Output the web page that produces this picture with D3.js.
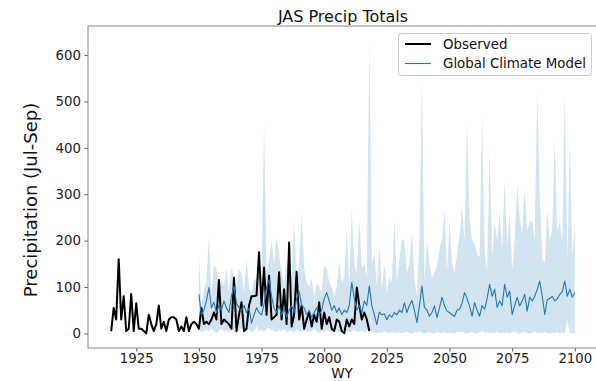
<!DOCTYPE html>
<html>
<head>
<meta charset="utf-8">
<script src="https://cdn.jsdelivr.net/npm/d3@7/dist/d3.min.js"></script>
<style>
  html, body { margin: 0; padding: 0; background: #fff; }
  svg { display: block; font-family: "DejaVu Sans", sans-serif; }
</style>
</head>
<body>
<svg id="chart" width="596" height="381"></svg>
<script>
// ---- Data ----
const obsStart = 1915;
const observed = [
  5,55,30,160,30,80,5,10,85,5,
  65,10,10,5,0,40,20,5,20,60,
  10,25,5,30,35,35,30,5,15,5,
  35,5,20,25,20,10,55,20,25,20,
  30,45,30,115,20,30,25,20,10,120,
  5,40,67,5,10,60,80,80,82,175,
  60,142,40,125,30,35,40,132,30,95,
  20,196,15,40,133,30,60,10,30,45,
  15,40,25,67,10,45,20,35,10,5,
  30,25,5,0,30,15,30,20,99,60,
  30,45,30,5
];
const gcmStart = 1950;
const gcmMean = [
  84,40,50,70,99,55,67,45,60,50,
  70,55,45,80,102,65,55,49,60,45,
  54,22,40,55,45,40,62,100,116,80,
  54,45,60,40,55,35,50,60,45,75,
  91,60,55,40,50,35,45,55,40,50,
  75,88,70,50,60,45,55,40,50,45,
  60,110,75,50,60,45,70,60,102,60,
  40,19,46,40,42,30,40,35,45,40,
  50,45,66,45,60,71,50,23,60,102,
  56,50,37,45,59,34,55,78,60,48,
  45,40,37,50,52,65,88,75,59,37,
  66,50,37,60,52,75,106,80,95,56,
  70,60,106,78,91,41,60,78,59,70,
  84,48,78,70,80,95,113,80,41,73,
  75,80,70,75,84,90,113,80,95,78,
  88
];
const gcmUpper = [
  167,60,95,110,210,80,145,142,90,120,
  100,140,90,142,120,100,140,130,90,160,
  100,85,120,110,130,110,447,130,160,200,
  150,207,170,130,110,160,130,120,240,110,
  150,257,140,110,100,120,80,110,100,90,
  145,140,110,100,80,100,150,110,120,225,
  100,268,150,130,246,140,150,120,631,150,
  175,100,188,95,149,88,120,110,248,110,
  160,203,200,131,150,218,120,80,200,548,
  110,199,150,120,131,145,180,200,268,131,
  240,150,130,170,210,275,200,455,246,200,
  192,170,164,473,180,131,397,164,240,200,
  261,181,326,188,264,138,200,322,250,214,
  311,220,240,242,200,520,300,160,153,264,
  200,225,419,220,240,200,512,160,415,167,
  232
];
const gcmLower = [
  10,2,5,8,3,12,5,0,6,10,
  4,8,2,10,5,0,7,12,3,6,
  9,2,5,15,4,8,3,10,12,5,
  6,2,8,4,10,3,5,7,2,9,
  4,6,3,8,2,5,10,4,0,6,
  3,8,5,2,6,4,1,5,3,7,
  2,5,8,3,4,6,2,5,10,3,
  2,0,3,1,4,2,0,3,1,2,
  3,0,2,4,1,0,3,2,5,1,
  0,2,3,1,0,4,2,1,3,0,
  2,1,0,3,2,4,1,0,2,3,
  1,0,2,5,1,3,0,2,1,4,
  0,2,1,3,0,2,4,1,0,2,
  3,1,0,2,4,1,2,0,3,1,
  0,2,1,3,0,2,1,27,2,0,
  1
];
const xTicks = [1925,1950,1975,2000,2025,2050,2075,2100];
const yTicks = [0,100,200,300,400,500,600];
const seriesNames = ["Observed", "Global Climate Model"];
const titleText = "JAS Precip Totals";
const xLabel = "WY";
const yLabel = "Precipitation (Jul-Sep)";

// ---- Layout ----
const svg = d3.select("#chart");
const L = 88, R = 598, T = 26, B = 348;
const x = d3.scaleLinear().domain([1905.75, 2109.25]).range([L, R]);
const y = d3.scaleLinear().domain([-31.5, 662.6]).range([B, T]);

const obs = observed.map((v, i) => ({yr: obsStart + i, v}));
const gcm = gcmMean.map((v, i) => ({yr: gcmStart + i, m: v, lo: gcmLower[i], hi: gcmUpper[i]}));

const blue = "#1f77b4";

// band
svg.append("path")
  .datum(gcm)
  .attr("fill", blue)
  .attr("fill-opacity", 0.2)
  .attr("d", d3.area().x(d => x(d.yr)).y0(d => y(d.lo)).y1(d => y(d.hi)));

// observed
svg.append("path")
  .datum(obs)
  .attr("fill", "none")
  .attr("stroke", "#000")
  .attr("stroke-width", 2)
  .attr("stroke-linejoin", "round")
  .attr("d", d3.line().x(d => x(d.yr)).y(d => y(d.v)));

// gcm mean
svg.append("path")
  .datum(gcm)
  .attr("fill", "none")
  .attr("stroke", blue)
  .attr("stroke-width", 1.1)
  .attr("stroke-linejoin", "round")
  .attr("d", d3.line().x(d => x(d.yr)).y(d => y(d.m)));

// axes
const xAxis = svg.append("g")
  .attr("transform", `translate(0,${B})`)
  .call(d3.axisBottom(x).tickValues(xTicks).tickFormat(d3.format("d")).tickSize(3.5).tickPadding(2));
const yAxis = svg.append("g")
  .attr("transform", `translate(${L},0)`)
  .call(d3.axisLeft(y).tickValues(yTicks).tickFormat(d3.format("d")).tickSize(3.5).tickPadding(3.5));
[xAxis, yAxis].forEach(g => {
  g.select(".domain").remove();
  g.selectAll(".tick line").attr("stroke", "#444").attr("stroke-width", 0.9);
  g.selectAll(".tick text").attr("font-size", "13.3px").attr("fill", "#222")
    .attr("font-family", "DejaVu Sans, sans-serif");
});

// frame
svg.append("rect")
  .attr("x", L).attr("y", T).attr("width", R - L).attr("height", B - T)
  .attr("fill", "none").attr("stroke", "#888").attr("stroke-width", 1);

// title & labels
svg.append("text").attr("x", (L + R) / 2).attr("y", 22).attr("text-anchor", "middle")
  .attr("font-size", "16px").attr("fill", "#111").text(titleText);
svg.append("text").attr("x", 342).attr("y", 378).attr("text-anchor", "middle")
  .attr("font-size", "13.5px").attr("fill", "#111").text(xLabel);
svg.append("text").attr("transform", "translate(37,200) rotate(-90)").attr("text-anchor", "middle")
  .attr("font-size", "18px").attr("fill", "#111").text(yLabel);

// legend
const lg = svg.append("g");
lg.append("rect").attr("x", 398.5).attr("y", 33.5).attr("width", 193).attr("height", 42)
  .attr("rx", 3).attr("fill", "#fff").attr("fill-opacity", 0.8)
  .attr("stroke", "#ccc").attr("stroke-width", 1);
const items = [{name: seriesNames[0], c: "#000", w: 2}, {name: seriesNames[1], c: blue, w: 1.1}];
items.forEach((it, i) => {
  const cy = 44 + i * 19.5;
  lg.append("line").attr("x1", 405).attr("x2", 431).attr("y1", cy).attr("y2", cy)
    .attr("stroke", it.c).attr("stroke-width", it.w);
  lg.append("text").attr("x", 443).attr("y", cy + 4.5).attr("font-size", "13.4px")
    .attr("fill", "#111").text(it.name);
});
</script>
</body>
</html>
